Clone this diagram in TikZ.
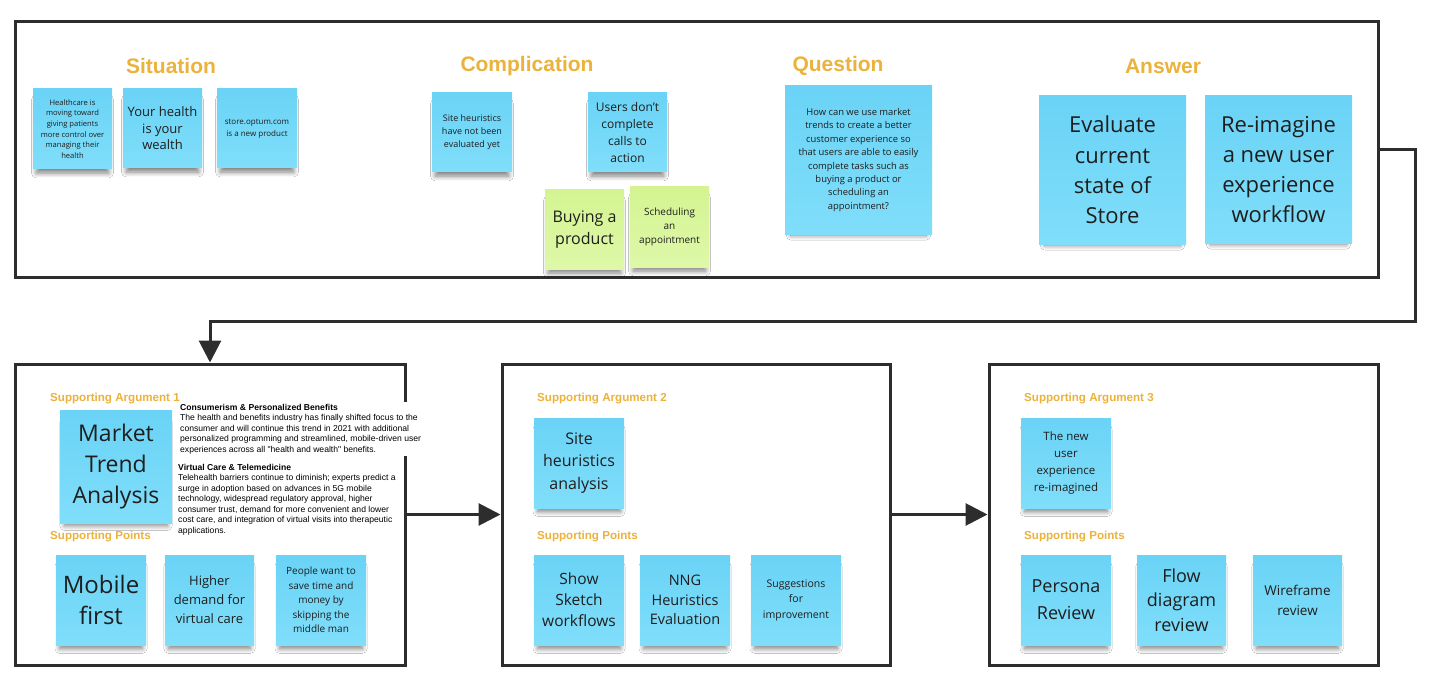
\documentclass[tikz,border=0pt]{standalone}
\usepackage{fontspec}
\setmainfont{Open Sans}
\newfontfamily\arialf{Liberation Sans}
\usetikzlibrary{arrows.meta,shadows.blur}
\definecolor{noteblue}{RGB}{106,211,246}
\definecolor{noteblue2}{RGB}{128,222,250}
\definecolor{notegreen}{RGB}{212,244,146}
\definecolor{notegreen2}{RGB}{222,248,168}
\definecolor{headcol}{RGB}{235,178,60}
\definecolor{frameline}{RGB}{45,45,45}
\definecolor{notetext}{RGB}{30,30,30}
\tikzset{
  note/.style={top color=noteblue, bottom color=noteblue2, draw=none, text=notetext,
    align=center, inner sep=0pt,
    blur shadow={shadow xshift=0pt, shadow yshift=-8pt, shadow opacity=50, shadow blur steps=10, shadow blur radius=5pt, shadow scale=0.92}},
  gnote/.style={note, top color=notegreen, bottom color=notegreen2},
  sz/.style 2 args={minimum width=#1pt, minimum height=#2pt},
  fs/.style 2 args={font=\fontsize{#1}{#2}\selectfont},
  frame/.style={draw=frameline, line width=3pt, fill=white, inner sep=0pt},
  head/.style={text=headcol, font=\arialf\bfseries\fontsize{21}{24}\selectfont, inner sep=0pt},
  sub/.style={text=headcol, font=\arialf\bfseries\fontsize{11.6}{13}\selectfont, inner sep=0pt, anchor=west},
  conn/.style={draw=frameline, line width=3pt, -{Triangle[length=22pt,width=22pt]}},
  para/.style={font=\arialf\fontsize{8.6}{10.5}\selectfont, align=left, inner sep=2pt, anchor=north west, text=black}
}
\begin{document}
\begin{tikzpicture}[x=1pt,y=-1pt]
\useasboundingbox (0,0) rectangle (1432,687);
% frames
\node[frame, sz={1363}{255}] (top) at (696.5,149.5) {};
\node[frame, sz={390}{301}] (p1) at (210,514.5) {};
\node[frame, sz={388}{301}] (p2) at (696,514.5) {};
\node[frame, sz={389}{301}] (p3) at (1183.5,514.5) {};
% connectors
\coordinate (c1) at (1415,321);
\draw[conn] (top.east) -| (c1) -| (p1.north);
\draw[conn] (p1.east) -- (p2.west);
\draw[conn] (p2.east) -- (p3.west);
% headings
\node[head] (hs) at (171,66) {Situation};
\node[head] (hc) at (527,66) {Complication};
\node[head] (hq) at (838,66) {Question};
\node[head] (ha) at (1163,66) {Answer};
% situation notes
\node[note, sz={79}{80}, fs={7.6}{10.6}] (n1) at (72.5,129) {Healthcare is\\moving toward\\giving patients\\more control over\\managing their\\health};
\node[note, sz={79}{79}, fs={13}{16.5}] (n2) at (162.5,128.5) {Your health\\is your\\wealth};
\node[note, sz={80}{79}, fs={8}{12}] (n3) at (257,128.5) {store.optum.com\\is a new product};
% complication notes
\node[note, sz={80}{79}, fs={9}{13}] (n4) at (472,132.5) {Site heuristics\\have not been\\evaluated yet};
\node[note, sz={79}{79}, fs={12}{17}] (n5) at (627.5,132.5) {Users don't\\complete\\calls to\\action};
\node[gnote, sz={79}{79}, fs={16}{22}] (n6) at (584.5,229.5) {Buying a\\product};
\node[gnote, sz={79}{80}, fs={10}{14}] (n7) at (669.5,227) {Scheduling\\an\\appointment};
% question
\node[note, sz={147}{148}, fs={9.4}{13.4}] (n8) at (858.5,160) {How can we use market\\trends to create a better\\customer experience so\\that users are able to easily\\complete tasks such as\\buying a product or\\scheduling an\\appointment?};
% answer
\node[note, sz={147}{148}, fs={22}{30.3}] (n9) at (1112.5,170) {Evaluate\\current\\state of\\Store};
\node[note, sz={147}{147}, fs={22}{30.3}] (n10) at (1278.5,169.5) {Re-imagine\\a new user\\experience\\workflow};
% panel 1
\node[sub] (s1) at (50,399) {Supporting Argument 1};
\node[note, sz={112}{113}, fs={23}{31}] (m1) at (116,466.5) {Market\\Trend\\Analysis};
\node[para, fill=white] (t1) at (178,402) {\textbf{Consumerism \& Personalized Benefits}\\The health and benefits industry has finally shifted focus to the\\consumer and will continue this trend in 2021 with additional\\personalized programming and streamlined, mobile-driven user\\experiences across all "health and wealth" benefits.};
\node[para] (t2) at (176,462) {\textbf{Virtual Care \& Telemedicine}\\Telehealth barriers continue to diminish; experts predict a\\surge in adoption based on advances in 5G mobile\\technology, widespread regulatory approval, higher\\consumer trust, demand for more convenient and lower\\cost care, and integration of virtual visits into therapeutic\\applications.};
\node[sub] (sp1) at (50,537) {Supporting Points};
\node[note, sz={90}{90}, fs={24}{31}] (a1) at (101,600) {Mobile\\first};
\node[note, sz={89}{90}, fs={13}{19}] (a2) at (209.5,600) {Higher\\demand for\\virtual care};
\node[note, sz={90}{90}, fs={10}{14.5}] (a3) at (321,600) {People want to\\save time and\\money by\\skipping the\\middle man};
% panel 2
\node[sub] (s2) at (537,399) {Supporting Argument 2};
\node[note, sz={90}{90}, fs={16}{22.5}] (m2) at (579,463) {Site\\heuristics\\analysis};
\node[sub] (sp2) at (537,537) {Supporting Points};
\node[note, sz={90}{90}, fs={15.5}{21}] (b1) at (579,600) {Show\\Sketch\\workflows};
\node[note, sz={90}{90}, fs={14.5}{19.5}] (b2) at (685,600) {NNG\\Heuristics\\Evaluation};
\node[note, sz={90}{90}, fs={10.5}{15.5}] (b3) at (796,600) {Suggestions\\for\\improvement};
% panel 3
\node[sub] (s3) at (1024,399) {Supporting Argument 3};
\node[note, sz={90}{90}, fs={11.5}{17.3}] (m3) at (1066,463) {The new\\user\\experience\\re-imagined};
\node[sub] (sp3) at (1024,537) {Supporting Points};
\node[note, sz={90}{90}, fs={18}{27}] (c1n) at (1066,600) {Persona\\Review};
\node[note, sz={89}{90}, fs={18}{24.5}] (c2n) at (1181.5,600) {Flow\\diagram\\review};
\node[note, sz={89}{90}, fs={13.5}{20}] (c3n) at (1297.5,600) {Wireframe\\review};
\end{tikzpicture}
\end{document}
